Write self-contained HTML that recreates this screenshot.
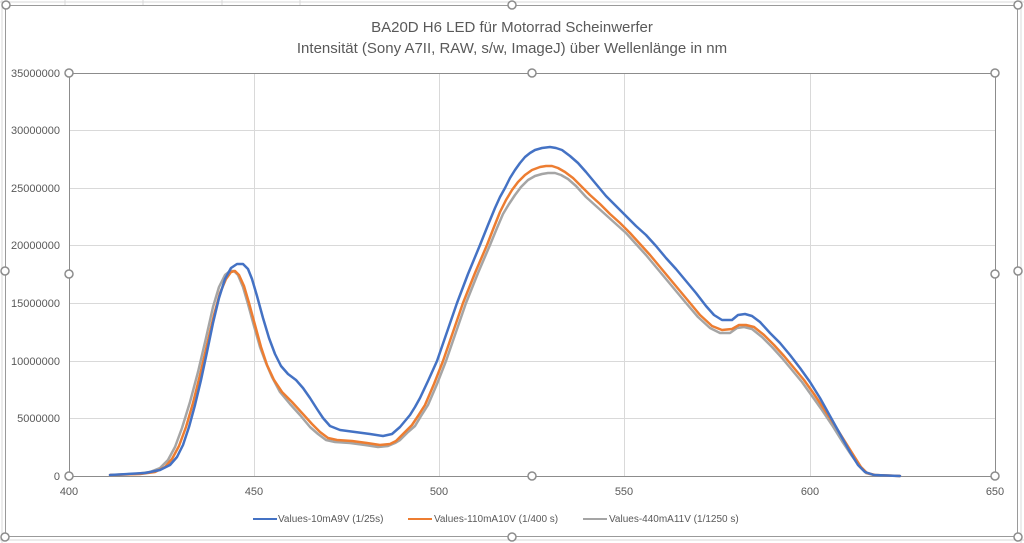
<!DOCTYPE html>
<html><head><meta charset="utf-8"><style>
body{margin:0;background:#fff;}
svg{display:block;font-family:"Liberation Sans",sans-serif;}
</style></head><body>
<svg width="1024" height="543" viewBox="0 0 1024 543">
<g stroke="#d9d9d9" stroke-width="1">
<line x1="0" y1="2" x2="1024" y2="2"/><line x1="0" y1="540" x2="1024" y2="540"/>
<line x1="65" y1="0" x2="65" y2="5"/><line x1="143" y1="0" x2="143" y2="5"/><line x1="222" y1="0" x2="222" y2="5"/><line x1="300" y1="0" x2="300" y2="5"/>
<line x1="2" y1="0" x2="2" y2="543"/><line x1="1021" y1="0" x2="1021" y2="543"/>
</g>
<rect x="5.5" y="5.5" width="1012" height="531" fill="#fff" stroke="#9a9a9a"/>
<text x="512" y="32" text-anchor="middle" font-size="15" fill="#595959">BA20D H6 LED für Motorrad Scheinwerfer</text>
<text x="512" y="53" text-anchor="middle" font-size="15" fill="#595959">Intensität (Sony A7II, RAW,  s/w,  ImageJ) über Wellenlänge in nm</text>
<g stroke="#d9d9d9" stroke-width="1">
<line x1="69" y1="130.5" x2="995" y2="130.5"/><line x1="69" y1="188.5" x2="995" y2="188.5"/><line x1="69" y1="245.5" x2="995" y2="245.5"/><line x1="69" y1="303.5" x2="995" y2="303.5"/><line x1="69" y1="361.5" x2="995" y2="361.5"/><line x1="69" y1="418.5" x2="995" y2="418.5"/>
<line x1="254.5" y1="73" x2="254.5" y2="476"/><line x1="439.5" y1="73" x2="439.5" y2="476"/><line x1="624.5" y1="73" x2="624.5" y2="476"/><line x1="810.5" y1="73" x2="810.5" y2="476"/>
</g>
<rect x="69.5" y="73.5" width="926" height="403" fill="none" stroke="#8c8c8c"/>
<g font-size="11" fill="#595959" text-anchor="end">
<text x="60" y="77">35000000</text><text x="60" y="134">30000000</text><text x="60" y="192">25000000</text><text x="60" y="249">20000000</text><text x="60" y="307">15000000</text><text x="60" y="365">10000000</text><text x="60" y="422">5000000</text><text x="60" y="480">0</text>
</g>
<g font-size="11" fill="#595959" text-anchor="middle">
<text x="69" y="495">400</text><text x="254" y="495">450</text><text x="439" y="495">500</text><text x="624" y="495">550</text><text x="810" y="495">600</text><text x="995" y="495">650</text>
</g>
<g fill="none" stroke-width="2.5" stroke-linejoin="round" stroke-linecap="round">
<polyline stroke="#a5a5a5" points="110,475 135,474 150,472 160,468 168,460 175,447 182,428 190,402 198,372 206,338 213,307 219,287 225,275 230,271 234,271 238,275 243,287 248,304 254,326 260,347 266,363 272,377 280,392 290,404 300,415 310,427 318,434 326,440 335,442 350,443 365,445 378,447 388,446 395,443 400,440 408,432 415,426 421,416 428,405 437,384 446,361 456,332 466,303 478,273 490,245 497,228 503,214 509,204 515,195 521,187 528,180 535,176 542,174 548,173 555,173 561,175 568,179 576,186 586,197 596,206 606,215 616,224 626,233 636,244 646,255 656,267 666,279 676,291 686,303 698,317 710,328 720,333 730,333 737,328 744,327 752,329 762,337 772,347 782,358 792,370 802,382 812,396 822,410 832,425 842,441 852,456 860,467 866,473 874,475 900,476"/>
<polyline stroke="#ed7d31" points="110,475 140,474 155,472 165,467 172,459 179,446 186,427 193,403 200,375 207,345 214,315 220,293 226,279 231,272 235,271 239,275 244,286 249,303 255,325 261,347 267,365 274,380 282,392 292,402 302,413 312,424 320,432 328,438 337,440 352,441 367,443 380,445 390,444 396,441 400,437 406,431 412,425 418,416 425,405 434,384 443,361 453,332 463,303 475,273 487,245 494,227 500,212 506,200 512,190 518,182 525,175 532,170 540,167 546,166 552,166 558,168 565,172 573,178 580,185 590,195 600,204 610,214 620,223 630,233 640,244 650,255 660,267 670,279 680,291 690,303 700,315 712,326 722,330 732,329 739,325 746,325 754,327 764,335 774,345 784,356 794,368 804,380 814,394 824,409 834,424 844,440 854,456 861,467 867,473 875,475 900,476"/>
<polyline stroke="#4472c4" points="110,475 145,473 160,470 170,465 177,457 183,445 189,427 195,405 201,380 207,352 213,323 219,298 225,279 231,268 237,264 243,264 248,269 252,279 257,296 263,318 269,338 275,354 281,366 288,374 296,380 303,388 310,398 317,409 323,418 330,426 340,430 355,432 370,434 383,436 392,434 400,427 405,421 410,415 415,407 420,398 428,381 437,361 447,332 457,303 468,274 480,245 488,225 495,208 500,197 505,188 510,178 515,170 520,163 525,157 530,153 535,150 542,148 550,147 556,148 562,150 570,156 578,163 586,172 596,184 606,196 616,206 626,216 636,226 646,235 656,246 666,258 676,269 686,281 696,293 706,306 714,315 722,320 732,320 738,315 745,314 752,316 760,322 770,333 780,343 790,355 800,368 810,382 820,398 830,416 840,434 850,452 858,465 865,472 874,475 900,476"/>
</g>
<g stroke-width="2">
<line x1="253" y1="519" x2="277" y2="519" stroke="#4472c4"/>
<line x1="408" y1="519" x2="432" y2="519" stroke="#ed7d31"/>
<line x1="583" y1="519" x2="607" y2="519" stroke="#a5a5a5"/>
</g>
<g font-size="10" fill="#595959">
<text x="278" y="522">Values-10mA9V (1/25s)</text>
<text x="434" y="522">Values-110mA10V (1/400 s)</text>
<text x="609" y="522">Values-440mA11V (1/1250 s)</text>
</g>
<g fill="#fff" stroke="#8c8c8c" stroke-width="1.5">
<circle cx="69" cy="73" r="4"/><circle cx="532" cy="73" r="4"/><circle cx="995" cy="73" r="4"/>
<circle cx="69" cy="274" r="4"/><circle cx="995" cy="274" r="4"/>
<circle cx="69" cy="476" r="4"/><circle cx="532" cy="476" r="4"/><circle cx="995" cy="476" r="4"/>
<circle cx="6" cy="5" r="4"/><circle cx="512" cy="5" r="4"/><circle cx="1018" cy="5" r="4"/>
<circle cx="5" cy="271" r="4"/><circle cx="1018" cy="271" r="4"/>
<circle cx="5" cy="537" r="4"/><circle cx="512" cy="537" r="4"/><circle cx="1018" cy="537" r="4"/>
</g>
</svg>
</body></html>
